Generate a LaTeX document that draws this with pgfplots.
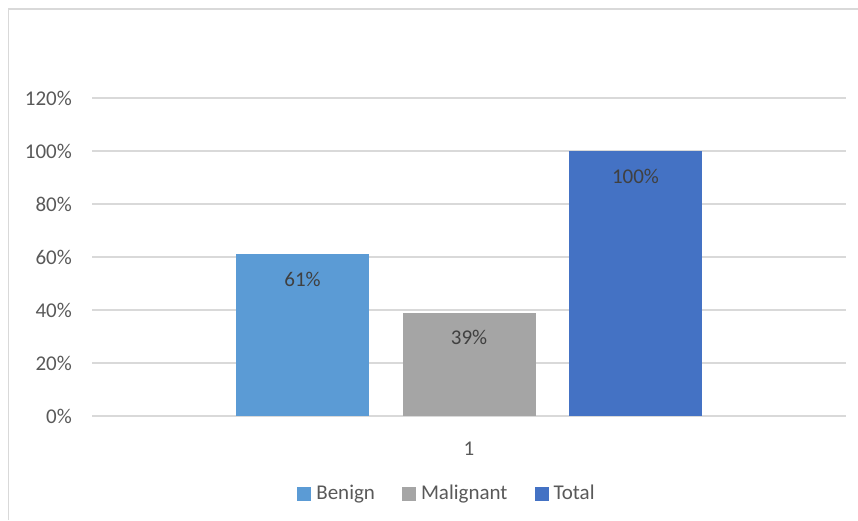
\documentclass[border=0pt]{standalone}
\usepackage{fontspec}
\setmainfont{Carlito}
\usepackage{pgfplots}
\pgfplotsset{compat=1.18}

\definecolor{benign}{HTML}{5B9BD5}
\definecolor{malig}{HTML}{A5A5A5}
\definecolor{total}{HTML}{4472C4}
\definecolor{gridc}{HTML}{D9D9D9}
\definecolor{txt}{HTML}{595959}
\definecolor{lbl}{HTML}{404040}

\newcommand{\chartfont}{\fontsize{21}{25}\selectfont}

\begin{document}
\begin{tikzpicture}[x=1pt,y=1pt]
\chartfont
% canvas and chart-area frame (left and top edges)
\path[use as bounding box] (0,0) rectangle (858,520);
\draw[gridc, line width=1.4pt] (8.5,0) -- (8.5,511) -- (858,511);

\begin{axis}[
  at={(92pt,104pt)}, anchor=south west,
  scale only axis, width=754pt, height=318pt,
  xmin=0, xmax=2, ymin=0, ymax=120,
  ybar=33.5pt, bar width=133pt,
  axis line style={draw=none},
  tick style={draw=none},
  ymajorgrids, grid style={gridc, line width=1.3pt},
  ytick={0,20,40,60,80,100,120},
  yticklabels={0\%,20\%,40\%,60\%,80\%,100\%,120\%},
  yticklabel style={font=\chartfont, text=txt, inner sep=0pt, anchor=east, xshift=-20pt},
  xtick={1}, xticklabels={1},
  xticklabel style={font=\chartfont, text=txt, inner sep=0pt, anchor=center, yshift=-28pt},
  /pgf/number format/assume math mode=true,
  nodes near coords={\pgfmathprintnumber{\pgfplotspointmeta}\%},
  point meta=y,
  every node near coord/.append style={font=\chartfont, text=lbl, anchor=center, yshift=-25pt},
  legend columns=3,
  legend style={draw=none, fill=none, at={(0.4708,-0.245)}, anchor=center,
    font=\chartfont, text=txt, inner sep=0pt,
    /tikz/every even column/.append style={column sep=25pt}},
  legend image code/.code={\fill[#1] (0pt,-7pt) rectangle (14pt,7pt); \path (17pt,0pt);},
]
\addplot[fill=benign, draw=none] coordinates {(1,61)};
\addplot[fill=malig, draw=none] coordinates {(1,39)};
\addplot[fill=total, draw=none] coordinates {(1,100)};
\legend{Benign, Malignant, Total}
\end{axis}
\end{tikzpicture}
\end{document}
